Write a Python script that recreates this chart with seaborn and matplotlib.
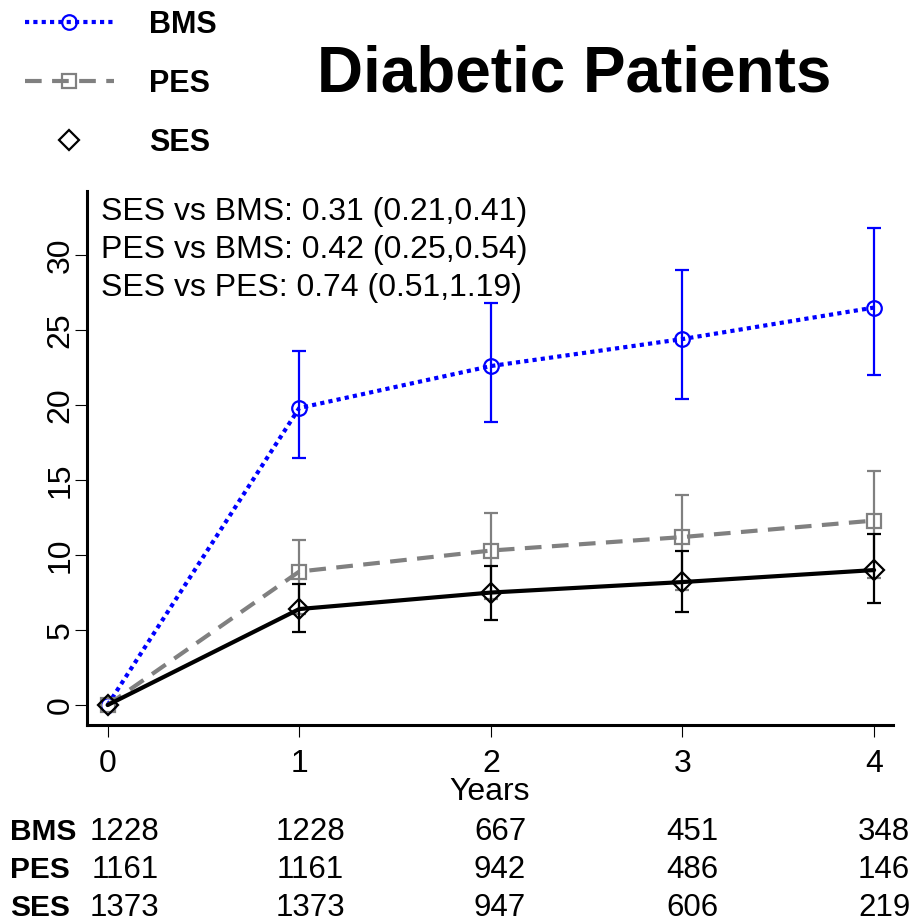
import numpy as np
import pandas as pd
import matplotlib
matplotlib.use("Agg")
import matplotlib.pyplot as plt
from matplotlib.lines import Line2D
import seaborn as sns

years = [0, 1, 2, 3, 4]

bms = [0, 19.8, 22.6, 24.4, 26.5]
bms_lo = [0, 16.5, 18.9, 20.4, 22.0]
bms_hi = [0, 23.6, 26.8, 29.0, 31.8]

pes = [0, 8.9, 10.3, 11.2, 12.3]
pes_lo = [0, 6.1, 7.1, 7.7, 8.5]
pes_hi = [0, 11.0, 12.8, 14.0, 15.6]

ses = [0, 6.4, 7.5, 8.2, 9.0]
ses_lo = [0, 4.9, 5.7, 6.2, 6.8]
ses_hi = [0, 8.1, 9.3, 10.3, 11.4]

at_risk = {
    "BMS": [1228, 1228, 667, 451, 348],
    "PES": [1161, 1161, 942, 486, 146],
    "SES": [1373, 1373, 947, 606, 219],
}

hr_lines = [
    "SES vs BMS: 0.31 (0.21,0.41)",
    "PES vs BMS: 0.42 (0.25,0.54)",
    "SES vs PES: 0.74 (0.51,1.19)",
]

sns.set_style("ticks")
plt.rcParams["font.family"] = ["Liberation Sans", "DejaVu Sans"]
for k in ["text.color", "axes.labelcolor", "xtick.color", "ytick.color", "axes.edgecolor"]:
    plt.rcParams[k] = "black"

fig = plt.figure(figsize=(9.14, 9.22), dpi=100)
ax = fig.add_axes([87.3 / 914, 1 - 725 / 922, (892.7 - 87.3) / 914, (725 - 191) / 922])

styles = {
    "BMS": dict(color="blue", marker="o", ms=10.5, ls=(0, (1, 1)), ecolor="blue"),
    "PES": dict(color="gray", marker="s", ms=9.5, ls=(0, (4, 2.5)), ecolor="gray"),
    "SES": dict(color="black", marker="D", ms=10, ls="-", ecolor="black"),
}
series = {"BMS": (bms, bms_lo, bms_hi), "PES": (pes, pes_lo, pes_hi), "SES": (ses, ses_lo, ses_hi)}

for name, (y, lo, hi) in series.items():
    st = styles[name]
    df = pd.DataFrame({"Years": years, "Rate": y})
    sns.lineplot(data=df, x="Years", y="Rate", ax=ax, color=st["color"],
                 linestyle=st["ls"], lw=3, marker=st["marker"], ms=st["ms"],
                 markerfacecolor="none", markeredgecolor=st["color"], markeredgewidth=1.6)
    y = np.array(y)
    err = [y[1:] - np.array(lo)[1:], np.array(hi)[1:] - y[1:]]
    ax.errorbar(years[1:], y[1:], yerr=err, fmt="none", ecolor=st["ecolor"],
                elinewidth=1.6, capsize=5, capthick=1.6)

ax.set_xlim(-0.106, 4.097)
ax.set_ylim(-1.33, 34.27)
ax.set_xticks(years)
ax.set_yticks([0, 5, 10, 15, 20, 25, 30])
sns.despine(ax=ax)
for s in ["left", "bottom"]:
    ax.spines[s].set_linewidth(2.2)
ax.tick_params(axis="both", length=8.5, width=0.8, labelsize=23, pad=9)
ax.tick_params(axis="y", labelrotation=90, pad=0)
for lab in ax.get_yticklabels():
    lab.set_va("center")
ax.set_ylabel("")
ax.set_xlabel("Years", fontsize=23)
ax.xaxis.set_label_coords(0.5, -0.098)

for i, line in enumerate(hr_lines):
    ax.text(0.0166, [0.9607, 0.8895, 0.8184][i], line, transform=ax.transAxes,
            fontsize=23, ha="left", va="center")

# number at risk table
tr = ax.get_xaxis_transform()
row_y = [-0.2000, -0.2712, -0.3420]
col_shift = [0.09, 0.057, 0.048, 0.05, 0.052]
for r, (name, counts) in enumerate(at_risk.items()):
    ax.text(-0.508, row_y[r], name, transform=tr, fontsize=21.5, fontweight="bold",
            ha="left", va="center", clip_on=False)
    for x, c, dx in zip(years, counts, col_shift):
        ax.text(x + dx, row_y[r], str(c), transform=tr, fontsize=22.5,
                ha="center", va="center", clip_on=False)

fig.text(574 / 914, 1 - 75 / 922, "Diabetic Patients", fontsize=46,
         fontweight="bold", ha="center", va="center")

handles = [
    Line2D([], [], color="blue", ls=(0, (1, 1)), lw=3, marker="o", ms=10.5,
           mfc="none", mec="blue", mew=1.6),
    Line2D([], [], color="gray", ls=(0, (4, 2.5)), lw=3, marker="s", ms=9.5,
           mfc="none", mec="gray", mew=1.6),
    Line2D([], [], color="black", ls="none", marker="D", ms=10,
           mfc="none", mec="black", mew=1.6),
]
leg = fig.legend(handles, list(at_risk.keys()), loc="upper left",
                 bbox_to_anchor=(25 / 914, 1 - 10 / 922), frameon=False,
                 borderpad=0, borderaxespad=0, handlelength=2.9, handletextpad=1.15,
                 labelspacing=0.95, prop={"size": 22, "weight": "bold"})

fig.savefig("out.png", dpi=100)
